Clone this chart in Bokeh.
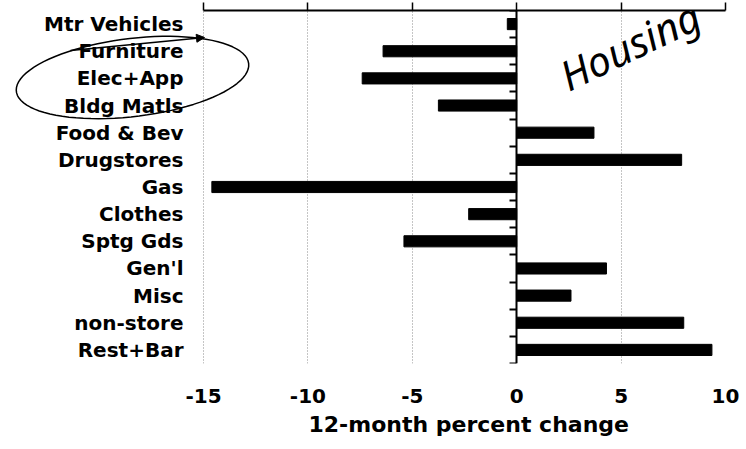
import numpy as np
from bokeh.plotting import figure
from bokeh.models import LinearAxis, FixedTicker, Grid, Label, ColumnDataSource, PolyAnnotation, Arrow, NormalHead, Title
from bokeh.core.properties import value
from bokeh.embed import file_html
from bokeh.resources import INLINE

# ---- data (top to bottom) ----
categories = ["Mtr Vehicles", "Furniture", "Elec+App", "Bldg Matls", "Food & Bev",
              "Drugstores", "Gas", "Clothes", "Sptg Gds", "Gen'l", "Misc",
              "non-store", "Rest+Bar"]
pct_change = [-0.45, -6.4, -7.4, -3.75, 3.7, 7.9, -14.6, -2.3, -5.4, 4.3, 2.6, 8.0, 9.35]
x_ticks = [-15, -10, -5, 0, 5, 10]
x_tick_labels = ["-15", "-10", "-5", "0", "5", "10"]
grid_ticks = [-15, -10, -5, 5, 10]
x_title = "12-month percent change"
note_text = "Housing"

n = len(categories)
centers = [n - i - 0.5 for i in range(n)]
boundaries = list(range(n + 1))
x_lo, x_hi = x_ticks[0], x_ticks[-1]

FONT = "DejaVu Sans"
W, H = 746, 449
LEFT_PX = 203          # where the value axis starts, in pixels
RIGHT_PAD = 21
UNIT_PX = (W - RIGHT_PAD - LEFT_PX) / (x_hi - x_lo)
x_start = x_lo - LEFT_PX / UNIT_PX   # frame spans the label area as well

p = figure(width=W, height=H, x_range=(x_start, x_hi), y_range=(0, n),
           output_backend="svg", toolbar_location=None,
           x_axis_location=None, y_axis_location=None,
           min_border_left=0, min_border_right=RIGHT_PAD, min_border_top=10,
           min_border_bottom=86)
p.outline_line_color = None
p.background_fill_color = "white"
p.border_fill_color = "white"
p.grid.visible = False

# gridlines
p.add_layout(Grid(dimension=0, ticker=FixedTicker(ticks=grid_ticks),
                  grid_line_color="#8a8a8a", grid_line_dash="1 2", grid_line_width=1))

src = ColumnDataSource(dict(y=centers, v=pct_change, cat=categories,
                            lx=[x_lo] * n))
p.hbar(y="y", left=0, right="v", height=0.41, source=src,
       fill_color="black", line_color="black")

# category labels
p.text(x="lx", y="y", text="cat", source=src, x_offset=-20,
       text_align="right", text_baseline="middle",
       text_font=value(FONT), text_font_style="bold", text_font_size="20px",
       text_color="black")

# top axis line with upward ticks, no labels
top = LinearAxis(ticker=FixedTicker(ticks=x_ticks), bounds=(x_lo, x_hi))
top.axis_line_width = 2
top.axis_line_color = "black"
top.major_tick_out = 8
top.major_tick_in = 0
top.major_tick_line_width = 1.5
top.minor_tick_line_color = None
top.major_label_text_font_size = "0px"
top.major_label_standoff = 0
p.add_layout(top, "above")

# bottom labels only
bot = LinearAxis(ticker=FixedTicker(ticks=x_ticks), bounds=(x_lo, x_hi),
                 major_label_overrides={t: s for t, s in zip(x_ticks, x_tick_labels)})
bot.axis_line_color = None
bot.major_tick_line_color = None
bot.minor_tick_line_color = None
bot.major_label_standoff = 19
bot.major_label_text_font = FONT
bot.major_label_text_font_style = "bold"
bot.major_label_text_font_size = "20px"
bot.major_label_text_color = "black"
p.add_layout(bot, "below")

# axis title, placed under the value axis
p.add_layout(Title(text=x_title, align="left", offset=308, standoff=8,
                   text_font=FONT, text_font_style="bold", text_font_size="22px",
                   text_color="black"), "below")

# vertical axis at zero with ticks between categories
zero = LinearAxis(ticker=FixedTicker(ticks=boundaries), fixed_location=0)
zero.axis_line_width = 2
zero.axis_line_color = "black"
zero.major_tick_in = 7
zero.major_tick_out = 0
zero.major_tick_line_width = 2
zero.minor_tick_line_color = None
zero.major_label_text_font_size = "0px"
zero.major_label_standoff = 0
p.add_layout(zero, "right")

# handwritten note
p.add_layout(Label(x=2.75, y=9.6, text=note_text, angle=0.45,
                   text_font="Noto Sans", text_font_style="italic",
                   text_font_size="41px", text_color="black"))

# hand-drawn loop and arrow around the housing categories
def px_to_data(px, py):
    return x_start + np.asarray(px) / UNIT_PX, n - (np.asarray(py) - 10.0) / 27.15

t = np.linspace(0, 2 * np.pi, 90)
cx, cy, rx, ry, rot = 132.0, 77.0, 117.0, 39.0, -0.12
ex = cx + rx * np.cos(t) * np.cos(rot) - ry * np.sin(t) * np.sin(rot)
ey = cy + rx * np.cos(t) * np.sin(rot) + ry * np.sin(t) * np.cos(rot)
dx, dy = px_to_data(ex, ey)
p.add_layout(PolyAnnotation(xs=list(dx), ys=list(dy), fill_color=None, fill_alpha=0,
                            line_color="black", line_alpha=1.0, line_width=1.5))
ax0, ay0 = px_to_data(70, 50)
ax1, ay1 = px_to_data(204, 37)
p.add_layout(Arrow(x_start=float(ax0), y_start=float(ay0), x_end=float(ax1), y_end=float(ay1),
                   line_color="black", line_width=1.5,
                   end=NormalHead(size=8, fill_color="black", line_color="black")))

open("out.html", "w").write(file_html(p, INLINE))
